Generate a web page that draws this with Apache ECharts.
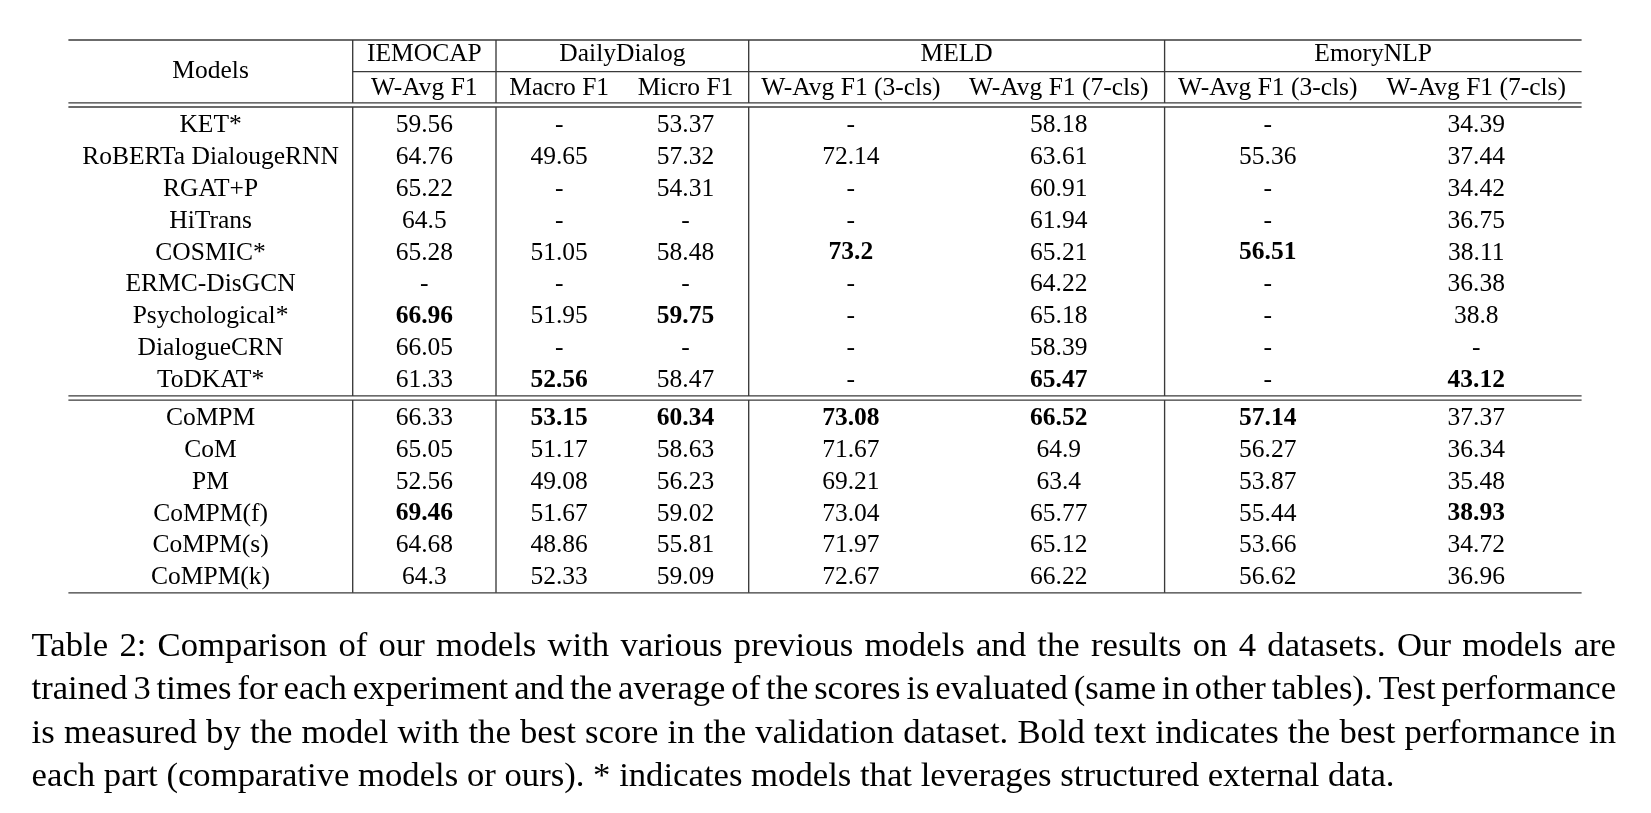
<!DOCTYPE html>
<html><head><meta charset="utf-8">
<script src="https://cdn.jsdelivr.net/npm/echarts@6/dist/echarts.min.js"></script>
<style>html,body{margin:0;padding:0;background:#fff}#c{width:1651px;height:813px}</style>
</head><body><div id="c"></div>
<script>
// ---------- DATA ----------
const models = ['KET*','RoBERTa DialougeRNN','RGAT+P','HiTrans','COSMIC*','ERMC-DisGCN','Psychological*','DialogueCRN','ToDKAT*',
                'CoMPM','CoM','PM','CoMPM(f)','CoMPM(s)','CoMPM(k)'];
const sectionSizes = [9, 6];
const datasetGroups = ['IEMOCAP','DailyDialog','MELD','EmoryNLP'];
const groupSpans = [1, 2, 2, 2];
const metricLabels = ['W-Avg F1','Macro F1','Micro F1','W-Avg F1 (3-cls)','W-Avg F1 (7-cls)','W-Avg F1 (3-cls)','W-Avg F1 (7-cls)'];
const iemocapWAvg = [59.56, 64.76, 65.22, 64.5, 65.28, null, 66.96, 66.05, 61.33, 66.33, 65.05, 52.56, 69.46, 64.68, 64.3];
const dailyMacro  = [null, 49.65, null, null, 51.05, null, 51.95, null, 52.56, 53.15, 51.17, 49.08, 51.67, 48.86, 52.33];
const dailyMicro  = [53.37, 57.32, 54.31, null, 58.48, null, 59.75, null, 58.47, 60.34, 58.63, 56.23, 59.02, 55.81, 59.09];
const meld3       = [null, 72.14, null, null, 73.2, null, null, null, null, 73.08, 71.67, 69.21, 73.04, 71.97, 72.67];
const meld7       = [58.18, 63.61, 60.91, 61.94, 65.21, 64.22, 65.18, 58.39, 65.47, 66.52, 64.9, 63.4, 65.77, 65.12, 66.22];
const emory3      = [null, 55.36, null, null, 56.51, null, null, null, null, 57.14, 56.27, 53.87, 55.44, 53.66, 56.62];
const emory7      = [34.39, 37.44, 34.42, 36.75, 38.11, 36.38, 38.8, null, 43.12, 37.37, 36.34, 35.48, 38.93, 34.72, 36.96];
const captionLines = [
  'Table 2: Comparison of our models with various previous models and the results on 4 datasets. Our models are',
  'trained 3 times for each experiment and the average of the scores is evaluated (same in other tables). Test performance',
  'is measured by the model with the best score in the validation dataset. Bold text indicates the best performance in',
  'each part (comparative models or ours). * indicates models that leverages structured external data.'
];

// ---------- LAYOUT (pixels) ----------
const colEdges = [68.4, 352.7, 496, 622.3, 748.7, 953, 1164.6, 1371, 1581.6];
const groupEdgeIdx = [0, 1, 2, 4, 6, 8];
const yTop = 40, yHeadMid = 71.6, yHeadEnd = [102.9, 107], yMid = [395.9, 400.1], yBottom = 592.8;
const yHead1 = 54.5, yHead2 = 88.6, yModels = 71.5;
const secStart = [125.6, 418.4], rowStep = 31.8;
const FONT = '"Liberation Serif","Times New Roman",serif';
const FS = 25.5, CAP_FS = 34.7;
const capLeft = 31.6, capRight = 1616, capTop = 647, capStep = 43.2;
const ruleColor = '#3a3a3a', ruleW = 1.35;

// ---------- BUILD ----------
const columns = [iemocapWAvg, dailyMacro, dailyMicro, meld3, meld7, emory3, emory7];
const colCenter = i => (colEdges[i] + colEdges[i + 1]) / 2;
function rowY(r) { return r < sectionSizes[0] ? secStart[0] + r * rowStep : secStart[1] + (r - sectionSizes[0]) * rowStep; }
function sectionOf(r) { return r < sectionSizes[0] ? 0 : 1; }

const cells = [];
cells.push({x: colCenter(0), y: yModels, t: 'Models', b: false});
let ci = 1;
datasetGroups.forEach((g, k) => {
  const s = ci, e = ci + groupSpans[k];
  cells.push({x: (colEdges[s] + colEdges[e]) / 2, y: yHead1, t: g, b: false});
  ci = e;
});
metricLabels.forEach((m, k) => cells.push({x: colCenter(k + 1), y: yHead2, t: m, b: false}));
models.forEach((m, r) => {
  cells.push({x: colCenter(0), y: rowY(r), t: m, b: false});
  columns.forEach((col, c) => {
    const v = col[r];
    const sec = sectionOf(r);
    const vals = col.filter((x, i) => sectionOf(i) === sec && x != null);
    const best = Math.max.apply(null, vals);
    cells.push({x: colCenter(c + 1), y: rowY(r), t: v == null ? '-' : String(v), b: v != null && v === best});
  });
});

const L = colEdges[0], R = colEdges[colEdges.length - 1];
const rules = [
  [L, yTop, R, yTop],
  [colEdges[1], yHeadMid, R, yHeadMid],
  [L, yHeadEnd[0], R, yHeadEnd[0]],
  [L, yHeadEnd[1], R, yHeadEnd[1]],
  [L, yMid[0], R, yMid[0]],
  [L, yMid[1], R, yMid[1]],
  [L, yBottom, R, yBottom]
];
groupEdgeIdx.slice(1, -1).forEach(i => {
  const x = colEdges[i];
  rules.push([x, yTop, x, yHeadEnd[0]]);
  rules.push([x, yHeadEnd[1], x, yMid[0]]);
  rules.push([x, yMid[1], x, yBottom]);
});

// caption: justified words
const ctx = document.createElement('canvas').getContext('2d');
const capFont = CAP_FS + 'px ' + FONT;
ctx.font = capFont;
const graphics = [];
captionLines.forEach((line, li) => {
  const words = line.split(' ');
  const widths = words.map(w => ctx.measureText(w).width);
  const total = widths.reduce((a, b) => a + b, 0);
  const last = li === captionLines.length - 1;
  const W = capRight - capLeft;
  const minGap = 0.17 * CAP_FS;
  let sx = 1, gap;
  if (last) { gap = ctx.measureText(' ').width; }
  else {
    gap = (W - total) / (words.length - 1);
    if (gap < minGap) { gap = minGap; sx = (W - minGap * (words.length - 1)) / total; }
  }
  let x = capLeft;
  words.forEach((w, k) => {
    graphics.push({type: 'text', x: x, y: capTop + li * capStep, scaleX: sx, silent: true,
      style: {text: w, font: capFont, fill: '#000', verticalAlign: 'middle', textVerticalAlign: 'middle'}});
    x += widths[k] * sx + gap;
  });
});

const chart = echarts.init(document.getElementById('c'), null, {renderer: 'canvas'});
chart.setOption({
  animation: false,
  backgroundColor: '#fff',
  grid: {left: 0, right: 0, top: 0, bottom: 0},
  xAxis: {type: 'value', min: 0, max: 1651, show: false},
  yAxis: {type: 'value', min: 0, max: 813, inverse: true, show: false},
  graphic: graphics,
  series: [
    {
      type: 'custom', silent: true,
      data: rules.map(s => [s[0], s[1], s[2], s[3]]),
      encode: {x: [0, 2], y: [1, 3]},
      renderItem: function (params, api) {
        const p1 = api.coord([api.value(0), api.value(1)]);
        const p2 = api.coord([api.value(2), api.value(3)]);
        return {type: 'line', shape: {x1: p1[0], y1: p1[1], x2: p2[0], y2: p2[1]},
                style: {stroke: ruleColor, lineWidth: ruleW}};
      }
    },
    {
      type: 'custom', silent: true,
      data: cells.map(c => [c.x, c.y]),
      encode: {x: 0, y: 1},
      renderItem: function (params, api) {
        const c = cells[params.dataIndex];
        const p = api.coord([api.value(0), api.value(1)]);
        return {type: 'text', x: p[0], y: p[1],
          style: {text: c.t, font: (c.b ? 'bold ' : '') + FS + 'px ' + FONT, fill: '#000',
                  align: 'center', verticalAlign: 'middle', textAlign: 'center', textVerticalAlign: 'middle'}};
      }
    }
  ]
});
</script></body></html>
